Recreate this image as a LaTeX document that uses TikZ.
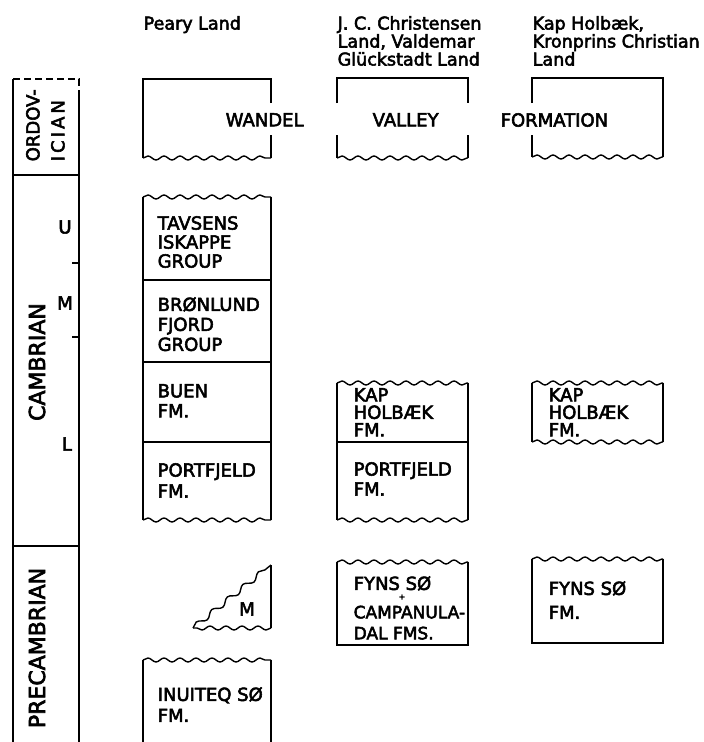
\documentclass[tikz,border=0pt]{standalone}
\usepackage{fontspec}
\setmainfont{DejaVu Sans}[FakeBold=3]
\usetikzlibrary{decorations.pathmorphing}
\newcommand\fs[2]{\fontsize{#1}{#2}\selectfont}
\tikzset{
  unit/.style={
    anchor = north west,
    inner sep = 0pt,
    align = left,
    font = \fs{18}{20}
  },
  head/.style={
    anchor = north west,
    inner sep = 0pt,
    align = left,
    font = \fs{17.5}{18}
  },
  era/.style={
    rotate = 90,
    inner sep = 0pt,
    font = \fs{22}{26}
  },
  sub/.style={
    inner sep = 0pt,
    font = \fs{18}{20}
  },
  wavy/.style={
    decorate,
    decoration={snake, amplitude=2pt, segment length=16pt, pre length=0pt, post length=0pt}
  },
}

\begin{document}
\begin{tikzpicture}[x=1pt, y=-1pt, line width=1.4pt]
        \useasboundingbox (0,0) rectangle (704,742);

        % column headings
        \node[head] (peary) at (143,15.5) {Peary Land};
        \node[head] (jcland) at (337,15.5) {J. C. Christensen\\Land, Valdemar\\Glückstadt Land};
        \node[head] (kapland) at (532,15.5) {Kap Holbæk,\\Kronprins Christian\\Land};

        % time scale
        \draw[dash pattern=on 7pt off 4pt] (13,79) -- (79,79) -- (79,96);
        \draw (13,79) -- (13,742);
        \draw (79,96) -- (79,742);
        \draw (13,175) -- (79,175);
        \draw (13,546) -- (79,546);
        \draw (72,263) -- (79,263);
        \draw (72,337) -- (79,337);

        \node[era, anchor=north west, align=left, font=\fs{18}{25}] (ordov) at (25.4,162) {ORDOV-\\{\addfontfeature{LetterSpace=17}ICIAN}};
        \node[era] (camb) at (37,362) {CAMBRIAN};
        \node[era] (precamb) at (37,648) {PRECAMBRIAN};
        \node[sub] (upper) at (65,227) {U};
        \node[sub] (middle) at (65,303) {M};
        \node[sub] (lower) at (67,444) {L};

        % Wandel Valley Formation
        \draw (271,103) -- (271,79) -- (143,79) -- (143,158);
        \draw (271,135) -- (271,158);
        \draw[wavy] (143,158) -- (271,158);
        \draw (337,103) -- (337,78) -- (468,78) -- (468,103);
        \draw (337,135) -- (337,158);
        \draw (468,135) -- (468,158);
        \draw[wavy] (337,158) -- (468,158);
        \draw (532,103) -- (532,78) -- (663,78) -- (663,157);
        \draw (532,135) -- (532,157);
        \draw[wavy] (532,157) -- (663,157);

        \node[unit] (wandel) at (225,112.5) {WANDEL};
        \node[unit] (valley) at (372,112.5) {VALLEY};
        \node[unit] (formation) at (500,112.5) {FORMATION};

        % Peary Land
        \draw[wavy] (143,197) -- (271,197);
        \draw (143,197) -- (143,520);
        \draw (271,197) -- (271,520);
        \draw (143,280) -- (271,280);
        \draw (143,362) -- (271,362);
        \draw (143,442) -- (271,442);
        \draw[wavy] (143,520) -- (271,520);

        \node[unit, font=\fs{18}{19}] (tavsens) at (157,215.5) {TAVSENS\\ISKAPPE\\GROUP};
        \node[unit] (bronlund) at (157,296.5) {BRØNLUND\\FJORD\\GROUP};
        \node[unit] (buen) at (157,383.5) {BUEN\\FM.};
        \node[unit, font=\fs{18}{21}] (portP) at (157,462.5) {PORTFJELD\\FM.};

        \draw (271,565) -- (271,628);
        \draw[wavy] (271,628) -- (193,628);
        \draw[wavy, decoration={amplitude=2.6pt, segment length=20pt}] (193,628) -- (271,565);
        \node[sub] (mwedge) at (247,609) {M};

        \draw[wavy] (143,660) -- (271,660);
        \draw (143,660) -- (143,742);
        \draw (271,660) -- (271,742);
        \node[unit, font=\fs{18}{21}] (inuiteq) at (157,686.5) {INUITEQ SØ\\FM.};

        % J. C. Christensen Land
        \draw[wavy] (337,383) -- (468,383);
        \draw (337,383) -- (337,520);
        \draw (468,383) -- (468,520);
        \draw (337,442) -- (468,442);
        \draw[wavy] (337,520) -- (468,520);
        \node[unit, font=\fs{18}{17.5}] (kapJ) at (353,387.5) {KAP\\HOLBÆK\\FM.};
        \node[unit] (portJ) at (353,461.5) {PORTFJELD\\FM.};

        \draw[wavy] (337,562) -- (468,562);
        \draw (337,562) -- (337,645) -- (468,645) -- (468,562);
        \node[unit] (fynsJ) at (353,575.5) {FYNS SØ};
        \node[inner sep=0pt, font=\fs{8}{8}] (plus) at (402,597) {+};
        \node[unit, font=\fs{17}{21}] (campanula) at (353,605) {CAMPANULA-\\DAL FMS.};

        % Kap Holbaek
        \draw[wavy] (532,383) -- (663,383);
        \draw (532,383) -- (532,442);
        \draw (663,383) -- (663,442);
        \draw[wavy] (532,442) -- (663,442);
        \node[unit, font=\fs{18}{17.5}] (kapK) at (548,387.5) {KAP\\HOLBÆK\\FM.};

        \draw[wavy] (532,559) -- (663,559);
        \draw (532,559) -- (532,643) -- (663,643) -- (663,559);
        \node[unit, font=\fs{18}{24}] (fynsK) at (548,580.5) {FYNS SØ\\FM.};
\end{tikzpicture}
\end{document}
